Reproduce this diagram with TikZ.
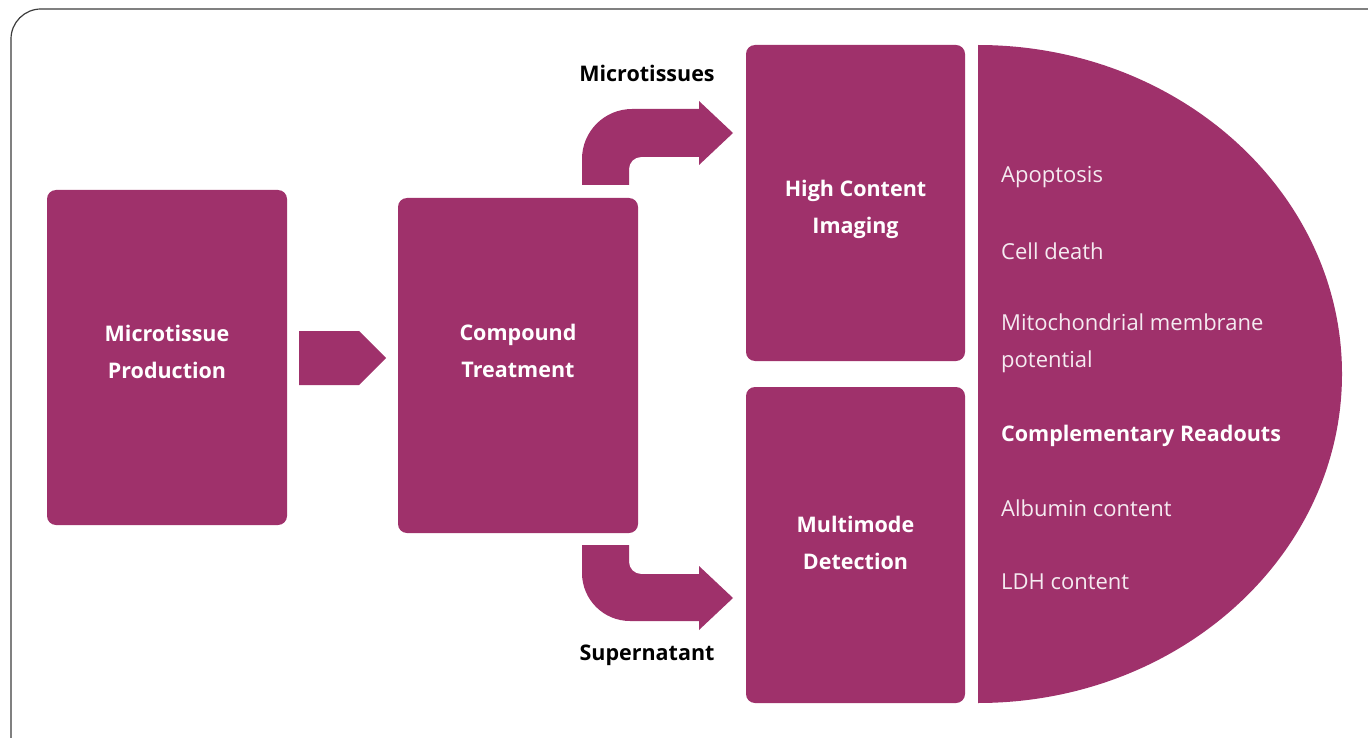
\documentclass[tikz,border=0pt]{standalone}
\usepackage{fontspec}
\setmainfont{Open Sans}
\setsansfont{Open Sans}
\usetikzlibrary{positioning}
\definecolor{plum}{RGB}{159,49,107}
\definecolor{frame}{RGB}{60,60,60}
\definecolor{readtxt}{RGB}{245,235,241}

\begin{document}
\begin{tikzpicture}[x=1pt,y=-1pt,
    box/.style={fill=plum,rounded corners=9pt,inner sep=0pt},
    boxtext/.style={text=white,font=\fontsize{21.5}{37}\selectfont\bfseries,align=center},
    flowlbl/.style={text=black,font=\fontsize{21.5}{25}\selectfont\bfseries},
    readout/.style={anchor=west,text=readtxt,font=\fontsize{22}{37}\selectfont,align=left,inner sep=0pt}]
    \useasboundingbox (0,0) rectangle (1368,738);
    \begin{scope}
      \clip (0,0) rectangle (1368,738);
      \draw[frame,line width=1.2pt,rounded corners=30pt] (11,9) rectangle (1420,790);
      % readout half disc
      \clip (978,0) rectangle (1368,738);
      \fill[plum] (978,374) ellipse [x radius=364, y radius=329];
    \end{scope}
    % boxes
    \node[box,minimum width=240pt,minimum height=335pt] (prod) at (167,357.5) {};
    \node[box,minimum width=240pt,minimum height=335pt] (treat) at (518,365.5) {};
    \node[box,minimum width=219pt,minimum height=316pt] (hci) at (855.5,203) {};
    \node[box,minimum width=219pt,minimum height=316pt] (mmd) at (855.5,545) {};
    \node[boxtext] (prodtxt) at (167,351.5) {Microtissue\\Production};
    \node[boxtext] (treattxt) at (518,351) {Compound\\Treatment};
    \node[boxtext] (hcitxt) at (855.5,209) {High Content\\Imaging};
    \node[boxtext] (mmdtxt) at (855.5,542.5) {Multimode\\Detection};
    % block arrows
    \fill[plum] (299,331) -- (359,331) -- (386,358) -- (359,385) -- (299,385) -- cycle;
    \fill[plum] (582,185) -- (582,159) .. controls (582,131.4) and (604.4,109) .. (632,109)
      -- (699,109) -- (699,101) -- (733,133) -- (699,165) -- (699,157) -- (641,157)
      .. controls (634.4,157) and (629,162.4) .. (629,169) -- (629,185) -- cycle;
    \fill[plum] (582,545) -- (582,573) .. controls (582,599.5) and (603.5,621) .. (630,621)
      -- (699,621) -- (699,630) -- (733,598) -- (699,566) -- (699,574) -- (641,574)
      .. controls (634.4,574) and (629,568.6) .. (629,562) -- (629,545) -- cycle;
    \node[flowlbl] (tissuelbl) at (647,73) {Microtissues};
    \node[flowlbl] (superlbl) at (647,655.5) {Supernatant};
    % readouts
    \foreach \y/\txt/\nm in {177.5/Apoptosis/apop, 251.5/Cell death/death,
      343/{Mitochondrial membrane\\potential}/mito, 508.5/Albumin content/alb,
      581.5/LDH content/ldh}
      \node[readout] (\nm) at (1001,\y) {\txt};
    \node[readout,text=white,font=\fontsize{21.5}{37}\selectfont\bfseries] (compl) at (1001,435.5) {Complementary Readouts};
\end{tikzpicture}
\end{document}
